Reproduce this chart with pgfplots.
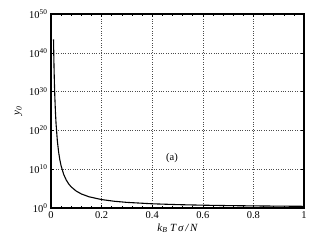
\documentclass[border=0pt]{standalone}
\usepackage{fontspec}
\setmainfont{Liberation Serif}
\usepackage{pgfplots}
\pgfplotsset{compat=1.18}
\begin{document}
\begin{tikzpicture}
\useasboundingbox (-51bp,-32bp) rectangle (276bp,208bp);
\begin{axis}[
  scale only axis, width=253bp, height=194bp,
  xmin=0, xmax=1, ymode=log, ymin=1, ymax=1e50,
  xtick={0,0.2,0.4,0.6,0.8,1},
  xticklabels={0,0.2,0.4,0.6,0.8,1},
  ytick={1,1e10,1e20,1e30,1e40,1e50},
  yticklabels={10\textsuperscript{0},10\textsuperscript{10},10\textsuperscript{20},10\textsuperscript{30},10\textsuperscript{40},10\textsuperscript{50}},
  minor x tick num=4,
  yminorticks=false,
  tick align=inside,
  major tick length=3bp, minor tick length=2bp,
  grid=major,
  major grid style={dotted, black!70},
  axis line style={line width=1.2pt},
  tick style={black, line width=0.5pt},
  ticklabel style={font=\fontsize{10.5}{11}\selectfont},
  /pgf/number format/assume math mode=true,
  xlabel={\itshape k\textsubscript{B} T\,σ\,/\,N},
  ylabel={\itshape y\textsubscript{0}},
  label style={font=\fontsize{11}{12}\selectfont},
  xlabel style={yshift=2bp},
  ylabel style={yshift=0bp},
]
\addplot[black, line width=1.1pt] coordinates {
(0.01,2.688e43) (0.011,3.03e39) (0.012,1.55e36) (0.013,2.56e33) (0.014,1.05e31)
(0.015,8.96e28) (0.0175,6.56e24) (0.02,5.18e21) (0.025,2.35e17) (0.03,3.00e14)
(0.035,2.57e12) (0.04,7.20e10) (0.05,4.85e8) (0.06,1.73e7) (0.07,1.60e6)
(0.08,2.68e5) (0.1,22026) (0.12,4160) (0.15,786) (0.2,148.4) (0.25,54.6)
(0.3,28.0) (0.4,12.18) (0.5,7.39) (0.6,5.29) (0.7,4.17) (0.8,3.49) (0.9,3.04) (1.0,2.718)
};
\node[font=\fontsize{10.5}{11}\selectfont] at (axis cs:0.478,1e13) {(a)};
\end{axis}
\end{tikzpicture}
\end{document}
